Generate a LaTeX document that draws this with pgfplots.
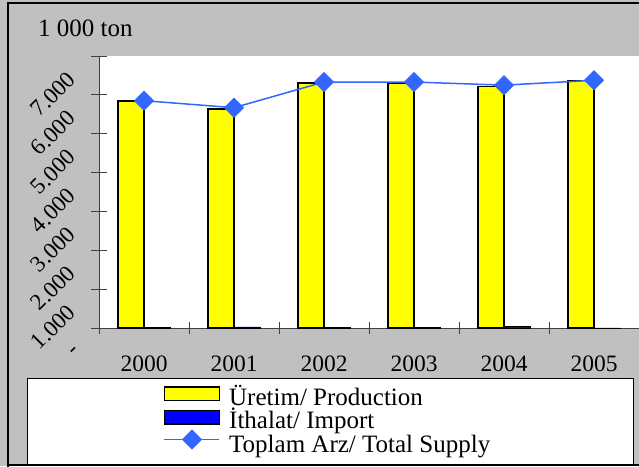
\documentclass[border=0pt]{standalone}
\usepackage{fontspec}
\setmainfont{Liberation Serif}
\usepackage{pgfplots}
\pgfplotsset{compat=1.18}
\definecolor{bg}{HTML}{C0C0C0}
\definecolor{supply}{HTML}{3366FF}
\definecolor{prod}{HTML}{FFFF00}
\definecolor{imp}{HTML}{0000FF}
\pgfplotsset{
  barleg/.style={legend image code/.code={\draw[##1, line width=1.5pt] (0pt,0.75pt) rectangle (55pt,14.25pt);}},
  lineleg/.style={legend image code/.code={\draw[##1, mark repeat=2, mark phase=2]
      plot coordinates {(0pt,8.7pt) (27.5pt,8.7pt) (55pt,8.7pt)};}},
}

\begin{document}
\begin{tikzpicture}[x=1pt,y=1pt]
\useasboundingbox (0,0) rectangle (639,466);
\fill[bg] (0,0) rectangle (639,466);
% legend box
\filldraw[fill=white, draw=black, line width=1pt] (27,1) rectangle (633,88);
% outer frame
\draw[line width=2pt] (8,-5) -- (8,462.5) -- (645,462.5);
\draw[line width=2pt] (8,1) -- (645,1);

\begin{axis}[
    at={(99pt,138pt)}, anchor=south west,
    scale only axis, width=540pt, height=272pt,
    xmin=-0.5, xmax=5.5, ymin=0, ymax=7000,
    axis background/.style={fill=white},
    axis x line=bottom, axis y line=left,
    axis line style={-, black!75, line width=0.8pt},
    tick style={black!75, line width=0.8pt},
    tick align=center, major tick length=16pt, minor tick length=12pt,
    xtick={0,...,5}, xticklabels={2000,2001,2002,2003,2004,2005},
    major x tick style={draw=none},
    minor xtick={-0.5,0.5,...,5.5},
    ytick={0,1000,...,7000},
    yticklabels={\phantom{1.000}\rlap{\kern-4pt\raisebox{-2pt}{-}},1.000,2.000,3.000,4.000,5.000,6.000,7.000},
    xticklabel style={font=\fontsize{23.5}{28}\selectfont, anchor=center, yshift=-28pt},
    yticklabel style={font=\fontsize{23}{28}\selectfont, inner sep=0pt,
                      xshift=-38pt, yshift=-38pt, rotate=45, anchor=center},
    legend cell align=left,
    legend style={at={(0.1194,-0.2133)}, anchor=north west, draw=none, fill=none,
                  inner sep=0pt, row sep={23.5pt,between origins},
                  font=\fontsize{25}{24}\selectfont,
                  nodes={inner sep=0pt, text height=16pt, text depth=7.5pt},
                  /tikz/every odd column/.append style={column sep=9pt}},
  ]
\addplot[ybar, bar width=26pt, bar shift=-13pt, fill=prod, draw=black, line width=1.5pt, barleg]
  coordinates {(0,5840) (1,5640) (2,6310) (3,6305) (4,6210) (5,6370)};
\addlegendentry{Üretim/ Production}
\addplot[ybar, bar width=26pt, bar shift=13pt, fill=imp, draw=black, line width=0.3pt, barleg]
  coordinates {(0,10) (1,30) (2,20) (3,25) (4,40) (5,5)};
\addlegendentry{İthalat/ Import}
\addplot[supply, line width=1.5pt, mark=square*, mark size=6.4pt,
         mark options={rotate=45, fill=supply, draw=supply}, lineleg]
  coordinates {(0,5850) (1,5670) (2,6330) (3,6330) (4,6250) (5,6375)};
\addlegendentry{Toplam Arz/ Total Supply}
\end{axis}

\node[anchor=base west, font=\fontsize{25}{30}\selectfont, inner sep=0pt] at (38,429.3) {1 000 ton};
\end{tikzpicture}
\end{document}
